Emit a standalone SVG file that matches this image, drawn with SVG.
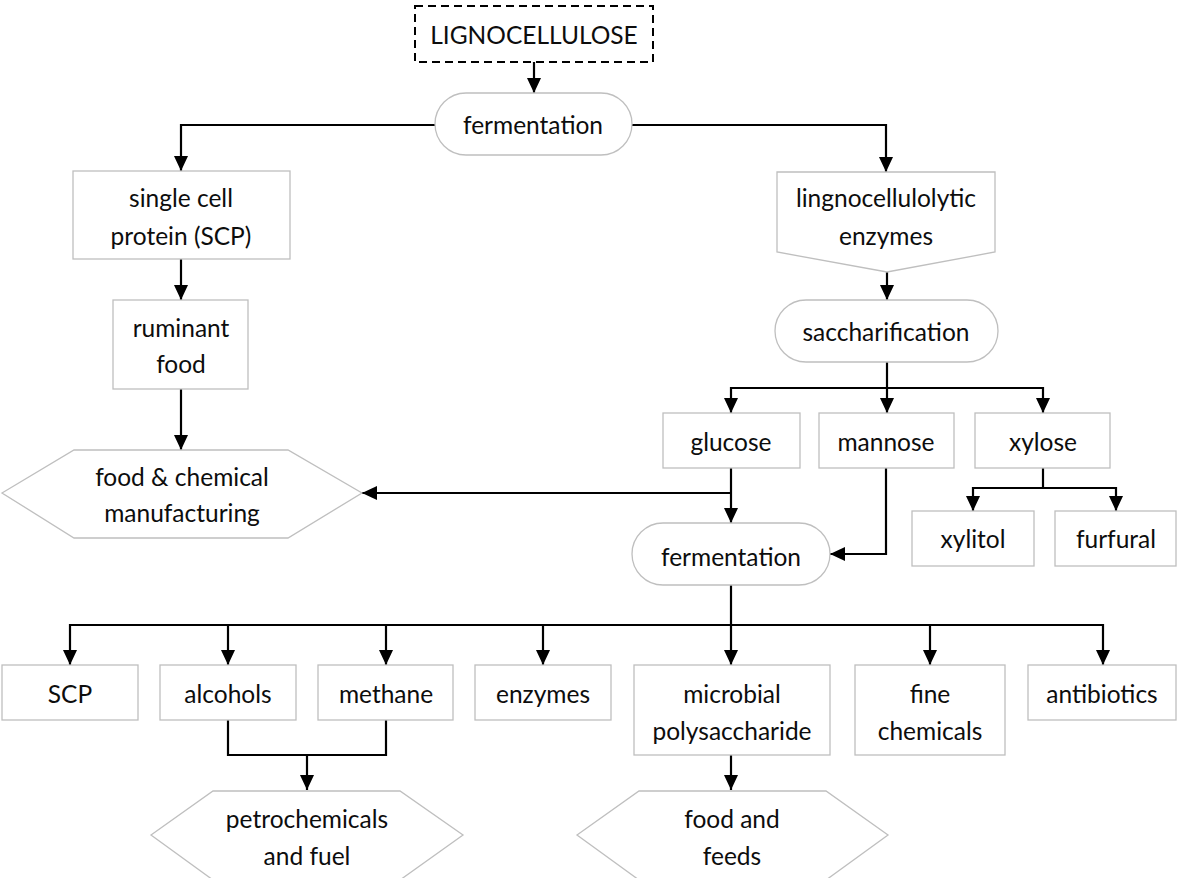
<svg xmlns="http://www.w3.org/2000/svg" width="1177" height="878" viewBox="0 0 1177 878">
<style>
.n{fill:#fff;stroke:#bfbfbf;stroke-width:1.3}
.t{font-family:Lato,"Liberation Sans",sans-serif;font-size:24.5px;fill:#0d0d0d;text-anchor:middle;dominant-baseline:central}
.c{fill:none;stroke:#000;stroke-width:2.2}
.a{marker-end:url(#ah)}
</style>
<defs>
<marker id="ah" markerUnits="userSpaceOnUse" viewBox="0 0 15 14" refX="15" refY="7" markerWidth="15" markerHeight="14" orient="auto">
<path d="M0,0 L15,7 L0,14 z" fill="#000"/>
</marker>
</defs>
<rect width="1177" height="878" fill="#fff"/>
<g id="connectors">
<path class="c a" d="M534,62 V93"/>
<path class="c a" d="M435,125 H181 V171"/>
<path class="c a" d="M632,125 H886 V172"/>
<path class="c a" d="M181,259 V300"/>
<path class="c a" d="M181,389 V450"/>
<path class="c a" d="M887,272 V300"/>
<path class="c" d="M887,362 V388"/>
<path class="c a" d="M887,388 H731 V413"/>
<path class="c a" d="M887,388 V413"/>
<path class="c a" d="M887,388 H1043 V413"/>
<path class="c a" d="M731,468 V523"/>
<path class="c a" d="M731,493 H362"/>
<path class="c a" d="M886,468 V554 H830"/>
<path class="c" d="M1043,468 V488"/>
<path class="c a" d="M1043,488 H973 V511"/>
<path class="c a" d="M1043,488 H1116 V511"/>
<path class="c" d="M731,585 V625"/>
<path class="c a" d="M731,625 H70 V665"/>
<path class="c a" d="M228,625 V665"/>
<path class="c a" d="M386,625 V665"/>
<path class="c a" d="M543,625 V665"/>
<path class="c a" d="M731,625 V665"/>
<path class="c a" d="M731,625 H1103 V665"/>
<path class="c a" d="M930,625 V665"/>
<path class="c" d="M228,720 V755 H386 V720"/>
<path class="c a" d="M307,755 V790"/>
<path class="c a" d="M731,755 V790"/>
</g>
<g id="lignocellulose">
<rect x="415" y="6" width="238" height="56" fill="#fff" stroke="#000" stroke-width="2" stroke-dasharray="8,5"/>
<text class="t" x="534" y="34">LIGNOCELLULOSE</text>
</g>
<g id="fermentation1">
<rect class="n" x="435" y="93" width="197" height="62" rx="31"/>
<text class="t" x="533" y="124">fermentation</text>
</g>
<g id="scp-protein">
<rect class="n" x="73" y="171" width="217" height="88"/>
<text class="t" x="181" y="197">single cell</text>
<text class="t" x="181" y="235">protein (SCP)</text>
</g>
<g id="ruminant">
<rect class="n" x="113" y="300" width="135" height="89"/>
<text class="t" x="181" y="327">ruminant</text>
<text class="t" x="181" y="363">food</text>
</g>
<g id="food-chemical">
<polygon class="n" points="2,493 74,450 288,450 362,493 288,538 74,538"/>
<text class="t" x="182" y="476">food &amp; chemical</text>
<text class="t" x="182" y="512">manufacturing</text>
</g>
<g id="enzymes-ligno">
<polygon class="n" points="777,172 995,172 995,252 887,272 777,252"/>
<text class="t" x="886" y="197">lingnocellulolytic</text>
<text class="t" x="886" y="235">enzymes</text>
</g>
<g id="saccharification">
<rect class="n" x="775" y="300" width="223" height="62" rx="31"/>
<text class="t" x="886" y="331">saccharification</text>
</g>
<g id="glucose">
<rect class="n" x="663" y="413" width="137" height="55"/>
<text class="t" x="731" y="441">glucose</text>
</g>
<g id="mannose">
<rect class="n" x="819" y="413" width="135" height="55"/>
<text class="t" x="886" y="441">mannose</text>
</g>
<g id="xylose">
<rect class="n" x="975" y="413" width="135" height="55"/>
<text class="t" x="1043" y="441">xylose</text>
</g>
<g id="xylitol">
<rect class="n" x="912" y="511" width="122" height="55"/>
<text class="t" x="973" y="538">xylitol</text>
</g>
<g id="furfural">
<rect class="n" x="1055" y="511" width="121" height="55"/>
<text class="t" x="1116" y="538">furfural</text>
</g>
<g id="fermentation2">
<rect class="n" x="632" y="523" width="198" height="62" rx="31"/>
<text class="t" x="731" y="556">fermentation</text>
</g>
<g id="scp">
<rect class="n" x="2" y="665" width="136" height="55"/>
<text class="t" x="70" y="693">SCP</text>
</g>
<g id="alcohols">
<rect class="n" x="160" y="665" width="136" height="55"/>
<text class="t" x="228" y="693">alcohols</text>
</g>
<g id="methane">
<rect class="n" x="318" y="665" width="135" height="55"/>
<text class="t" x="386" y="693">methane</text>
</g>
<g id="enzymes">
<rect class="n" x="475" y="665" width="136" height="55"/>
<text class="t" x="543" y="693">enzymes</text>
</g>
<g id="microbial">
<rect class="n" x="634" y="665" width="196" height="90"/>
<text class="t" x="732" y="693">microbial</text>
<text class="t" x="732" y="730">polysaccharide</text>
</g>
<g id="fine-chemicals">
<rect class="n" x="855" y="665" width="150" height="90"/>
<text class="t" x="930" y="693">fine</text>
<text class="t" x="930" y="730">chemicals</text>
</g>
<g id="antibiotics">
<rect class="n" x="1028" y="665" width="148" height="55"/>
<text class="t" x="1102" y="693">antibiotics</text>
</g>
<g id="petrochemicals">
<polygon class="n" points="151,835 213,791 400,791 463,835 400,880 213,880"/>
<text class="t" x="307" y="818">petrochemicals</text>
<text class="t" x="307" y="855">and fuel</text>
</g>
<g id="food-feeds">
<polygon class="n" points="577,835 639,791 826,791 888,835 826,880 639,880"/>
<text class="t" x="732" y="818">food and</text>
<text class="t" x="732" y="855">feeds</text>
</g>
</svg>
